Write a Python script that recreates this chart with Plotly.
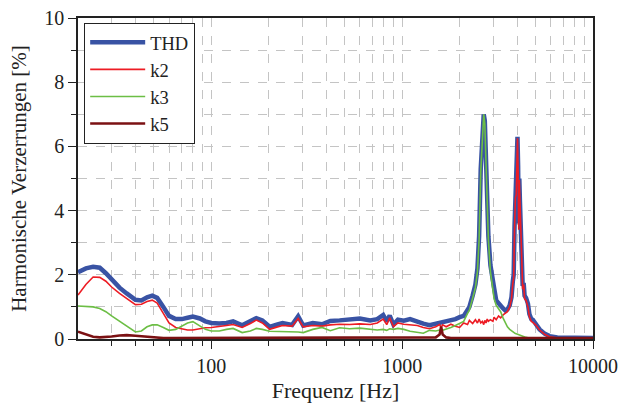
import plotly.graph_objects as go
import math

# ---------------- data ----------------
freq = [
    20, 22, 24, 26, 28, 30, 33, 36, 40, 43,
    46, 49, 52, 56, 60, 65, 70, 75, 80, 87,
    93, 100, 110, 120, 130, 145, 160, 172, 185, 202,
    220, 236, 265, 285, 303, 340, 380, 420, 470, 530,
    600, 680, 740, 795, 830, 860, 900, 950, 1020, 1100,
    1200, 1290, 1390, 1500, 1570, 1600, 1630, 1700, 1800, 1900,
    2000, 2100, 2200, 2250, 2340, 2420, 2480, 2530, 2580, 2630,
    2675, 2710, 2750, 2790, 2830, 2900, 2990, 3030, 3110, 3200,
    3280, 3380, 3480, 3560, 3660, 3740, 3800, 3840, 3880, 3920,
    3960, 4000, 4020, 4050, 4080, 4110, 4140, 4170, 4200, 4240,
    4280, 4330, 4380, 4460, 4560, 4640, 4750, 4840, 5000, 5250,
    5600, 5920, 6500, 7500, 8500, 10000,
]

thd = [
    2.08, 2.2, 2.25, 2.22, 2.05, 1.85, 1.6, 1.42, 1.22, 1.2,
    1.3, 1.35, 1.28, 1.0, 0.72, 0.62, 0.62, 0.66, 0.7, 0.64,
    0.55, 0.5, 0.48, 0.5, 0.55, 0.43, 0.55, 0.65, 0.58, 0.38,
    0.45, 0.5, 0.44, 0.71, 0.42, 0.5, 0.46, 0.56, 0.58, 0.6,
    0.64, 0.58, 0.62, 0.75, 0.55, 0.73, 0.45, 0.6, 0.57, 0.62,
    0.53, 0.48, 0.43, 0.47, 0.5, 0.53, 0.52, 0.56, 0.6, 0.62,
    0.68, 0.72, 0.9, 1.0, 1.35, 1.7, 2.2, 3.2, 5.3, 6.5,
    7.0, 6.8, 5.3, 4.1, 3.2, 2.3, 1.9, 1.6, 1.2, 1.1,
    1.05, 0.95, 0.88, 0.92, 1.05, 1.3, 1.8, 2.0, 3.5, 4.5,
    4.6, 5.8, 6.3, 5.4, 3.6, 5.0, 4.3, 3.4, 2.8, 2.1,
    1.65, 1.75, 1.35, 1.28, 1.1, 0.78, 0.62, 0.6, 0.47, 0.3,
    0.16, 0.09, 0.05, 0.04, 0.03, 0.03,
]

k2 = [
    1.37, 1.7, 1.93, 1.92, 1.8, 1.62, 1.42, 1.25, 1.07, 1.08,
    1.17, 1.21, 1.12, 0.8, 0.5, 0.36, 0.32, 0.28, 0.28, 0.33,
    0.35, 0.36, 0.38, 0.42, 0.45, 0.36, 0.48, 0.59, 0.5, 0.3,
    0.37, 0.42, 0.4, 0.64, 0.38, 0.42, 0.4, 0.44, 0.46, 0.45,
    0.47, 0.45, 0.5, 0.62, 0.45, 0.66, 0.38, 0.5, 0.46, 0.44,
    0.42, 0.36, 0.32, 0.38, 0.45, 0.36, 0.44, 0.38, 0.46, 0.4,
    0.36, 0.5, 0.45, 0.58, 0.48, 0.6, 0.5, 0.62, 0.5, 0.55,
    0.45, 0.58, 0.5, 0.62, 0.55, 0.6, 0.55, 0.68, 0.6, 0.72,
    0.66, 0.75, 0.8, 0.85, 1.0, 1.25, 1.73, 1.9, 3.4, 4.4,
    4.5, 5.7, 6.25, 5.3, 3.4, 4.95, 4.2, 3.3, 2.7, 2.0,
    1.55, 1.7, 1.25, 1.2, 1.0, 0.7, 0.55, 0.52, 0.44, 0.28,
    0.14, 0.07, 0.03, 0.02, 0.02, 0.02,
]

k3 = [
    1.03, 1.02, 1.0, 0.95, 0.85, 0.72, 0.55, 0.38, 0.22, 0.25,
    0.38, 0.44, 0.44, 0.36, 0.27, 0.3, 0.4, 0.5, 0.54, 0.42,
    0.3, 0.25, 0.25, 0.3, 0.33, 0.2, 0.25, 0.33, 0.3, 0.24,
    0.24, 0.23, 0.22, 0.22, 0.2, 0.3, 0.36, 0.26, 0.35, 0.32,
    0.34, 0.3, 0.28, 0.3, 0.27, 0.32, 0.3, 0.33, 0.3, 0.24,
    0.22, 0.18, 0.27, 0.25, 0.28, 0.25, 0.27, 0.3, 0.36, 0.42,
    0.5, 0.55, 0.8, 0.9, 1.27, 1.6, 2.1, 3.1, 5.2, 6.4,
    7.0, 6.7, 5.2, 4.0, 3.1, 2.1, 1.5, 1.27, 1.05, 0.95,
    0.85, 0.65, 0.49, 0.38, 0.3, 0.25, 0.22, 0.2, 0.18, 0.17,
    0.16, 0.15, 0.14, 0.13, 0.12, 0.12, 0.11, 0.1, 0.1, 0.09,
    0.08, 0.07, 0.06, 0.05, 0.04, 0.03, 0.03, 0.02, 0.02, 0.02,
    0.02, 0.02, 0.02, 0.02, 0.02, 0.02,
]

k5 = [
    0.23, 0.15, 0.07, 0.05, 0.06, 0.08, 0.11, 0.12, 0.1, 0.08,
    0.07, 0.05, 0.04, 0.03, 0.03, 0.03, 0.03, 0.03, 0.03, 0.03,
    0.03, 0.03, 0.03, 0.03, 0.03, 0.03, 0.03, 0.03, 0.03, 0.03,
    0.03, 0.03, 0.03, 0.03, 0.03, 0.03, 0.03, 0.03, 0.03, 0.03,
    0.03, 0.03, 0.03, 0.03, 0.03, 0.03, 0.03, 0.03, 0.03, 0.03,
    0.03, 0.03, 0.03, 0.05, 0.14, 0.38, 0.14, 0.05, 0.03, 0.03,
    0.03, 0.03, 0.03, 0.03, 0.03, 0.03, 0.03, 0.03, 0.03, 0.03,
    0.03, 0.03, 0.03, 0.03, 0.03, 0.03, 0.03, 0.03, 0.03, 0.03,
    0.03, 0.03, 0.03, 0.03, 0.03, 0.03, 0.03, 0.03, 0.03, 0.03,
    0.03, 0.03, 0.03, 0.03, 0.03, 0.03, 0.03, 0.03, 0.03, 0.03,
    0.03, 0.03, 0.03, 0.03, 0.03, 0.03, 0.03, 0.03, 0.03, 0.03,
    0.03, 0.03, 0.03, 0.03, 0.03, 0.03,
]

series_names = ["THD", "k2", "k3", "k5"]
x_tickvals = [100, 1000, 10000]
x_ticktext = ["100", "1000", "10000"]
y_tickvals = [0, 2, 4, 6, 8, 10]

# ---------------- figure ----------------
FONT = "Liberation Serif, Times New Roman, serif"
styles = {
    "THD": dict(color="#3953a4", width=4.5),
    "k2": dict(color="#ed1c24", width=1.6),
    "k3": dict(color="#6cbe45", width=1.6),
    "k5": dict(color="#7b1113", width=2.6),
}
values = {"THD": thd, "k2": k2, "k3": k3, "k5": k5}

fig = go.Figure()
for name in series_names:
    fig.add_trace(go.Scatter(
        x=freq, y=values[name], mode="lines", name=name,
        line=dict(color=styles[name]["color"], width=styles[name]["width"]),
    ))

minor_x = [m * 10 ** d for d in range(1, 4) for m in range(2, 10) if m * 10 ** d > 20]

grid = dict(gridcolor="#c4c4c4", griddash="dash", gridwidth=1)

fig.update_layout(
    width=620, height=403,
    margin=dict(l=78, r=27, t=18, b=64, autoexpand=False),
    paper_bgcolor="white", plot_bgcolor="white",
    font=dict(family=FONT, size=20, color="#222222"),
    showlegend=True,
    legend=dict(
        x=0.012, y=0.985, xanchor="left", yanchor="top",
        bordercolor="#222222", borderwidth=1, bgcolor="white",
        font=dict(family=FONT, size=18.5, color="#222222"),
        tracegroupgap=0, itemwidth=55,
    ),
    xaxis=dict(
        type="log", range=[math.log10(20), 4], automargin=False,
        tickmode="array", tickvals=x_tickvals, ticktext=x_ticktext,
        ticks="outside", ticklen=8, tickwidth=1.2, tickcolor="#222222",
        showline=True, linecolor="#222222", linewidth=1.5, mirror=True,
        showgrid=True, **grid,
        minor=dict(tickvals=minor_x, ticks="outside", ticklen=5,
                   tickcolor="#222222", showgrid=True,
                   gridcolor="#c4c4c4", griddash="dash"),
        title=dict(text="Frequenz [Hz]", font=dict(family=FONT, size=22), standoff=10),
        tickfont=dict(family=FONT, size=20),
        zeroline=False,
    ),
    yaxis=dict(
        range=[0, 10], tickmode="array", tickvals=y_tickvals, automargin=False,
        ticks="outside", ticklen=8, tickwidth=1.2, tickcolor="#222222",
        showline=True, linecolor="#222222", linewidth=1.5, mirror=True,
        showgrid=True, **grid,
        minor=dict(dtick=1, ticks="outside", ticklen=5, tickcolor="#222222",
                   showgrid=True, gridcolor="#c4c4c4", griddash="dash"),
        title=dict(text="Harmonische Verzerrungen [%]", font=dict(family=FONT, size=21), standoff=12),
        tickfont=dict(family=FONT, size=20),
        zeroline=False,
    ),
)

fig.write_html(
    "out.html",
    config={"displayModeBar": False},
    post_script="document.body.style.margin='0';document.body.style.padding='0';",
)
